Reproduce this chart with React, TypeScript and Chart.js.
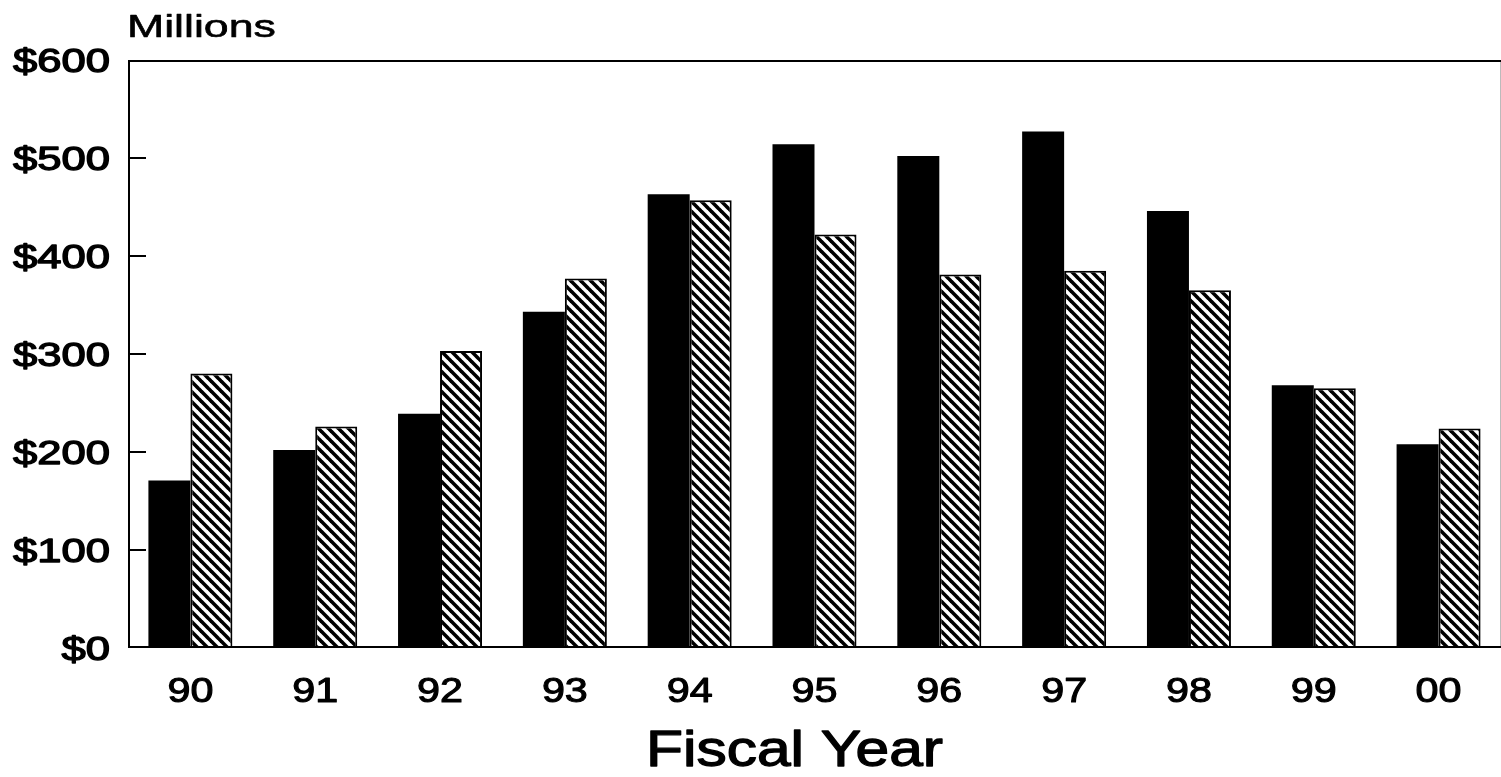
import React, { useEffect, useRef } from 'react';
import { Chart, registerables } from 'chart.js';

Chart.register(...registerables);

const years = ['90', '91', '92', '93', '94', '95', '96', '97', '98', '99', '00'];
const solidSeries = [171, 202, 239, 343, 463, 514, 502, 527, 446, 268, 208];
const hatchedSeries = [280, 226, 303, 377, 457, 422, 381, 385, 365, 265, 224];
const yTickValues = [0, 100, 200, 300, 400, 500, 600];
const yAxisTitle = 'Millions';
const xAxisTitle = 'Fiscal Year';

const FONT = "'Liberation Sans', Arial, Helvetica, sans-serif";

function makeHatch(ctx: CanvasRenderingContext2D): CanvasPattern | string {
  const p = 10;
  const c = document.createElement('canvas');
  c.width = p;
  c.height = p;
  const g = c.getContext('2d');
  if (!g) return '#888';
  g.fillStyle = '#fff';
  g.fillRect(0, 0, p, p);
  g.strokeStyle = '#000';
  g.lineWidth = 3.6;
  for (const off of [-p, 0, p]) {
    g.beginPath();
    g.moveTo(off - 1, -1);
    g.lineTo(off + p + 1, p + 1);
    g.stroke();
  }
  return ctx.createPattern(c, 'repeat') || '#888';
}

function stretchedText(
  ctx: CanvasRenderingContext2D,
  text: string,
  x: number,
  y: number,
  sx: number,
  align: CanvasTextAlign,
  font: string,
  extraStroke = 0
) {
  ctx.save();
  ctx.translate(x, y);
  ctx.scale(sx, 1);
  ctx.font = font;
  ctx.textAlign = align;
  ctx.textBaseline = 'alphabetic';
  ctx.fillStyle = '#000';
  ctx.fillText(text, 0, 0);
  if (extraStroke > 0) {
    ctx.strokeStyle = '#000';
    ctx.lineWidth = extraStroke;
    ctx.lineJoin = 'round';
    ctx.strokeText(text, 0, 0);
  }
  ctx.restore();
}

const framePlugin = {
  id: 'framePlugin',
  afterDatasetsDraw(chart: any) {
    const { ctx, chartArea } = chart;
    const { left, right, top, bottom } = chartArea;
    const yScale = chart.scales.y;
    const xScale = chart.scales.x;
    ctx.save();
    // faint right edge
    ctx.strokeStyle = '#bbb';
    ctx.lineWidth = 1;
    ctx.beginPath();
    ctx.moveTo(right - 0.5, top);
    ctx.lineTo(right - 0.5, bottom);
    ctx.stroke();
    // frame: left, bottom, top
    ctx.strokeStyle = '#000';
    ctx.lineWidth = 2;
    ctx.beginPath();
    ctx.moveTo(left + 1, top);
    ctx.lineTo(left + 1, bottom);
    ctx.moveTo(left, bottom - 1);
    ctx.lineTo(right, bottom - 1);
    ctx.moveTo(left, top + 1);
    ctx.lineTo(right, top + 1);
    ctx.stroke();
    // inward y ticks
    ctx.beginPath();
    yScale.ticks.forEach((t: any) => {
      if (t.value <= yScale.min || t.value >= yScale.max) return;
      const y = Math.round(yScale.getPixelForValue(t.value));
      ctx.moveTo(left, y);
      ctx.lineTo(left + 18, y);
    });
    ctx.stroke();
    ctx.restore();

    // y tick labels
    const yFont = `33px ${FONT}`;
    yScale.ticks.forEach((t: any) => {
      const y = yScale.getPixelForValue(t.value);
      stretchedText(ctx, '$' + t.value, left - 18, y + 12, 1.32, 'right', yFont, 1.3);
    });
    // x tick labels
    const xFont = `35px ${FONT}`;
    xScale.ticks.forEach((t: any, i: number) => {
      const x = xScale.getPixelForTick(i);
      stretchedText(ctx, String(years[i]), x, bottom + 54, 1.18, 'center', xFont, 1.1);
    });
    // titles
    stretchedText(ctx, yAxisTitle, left - 1, 37, 1.44, 'left', `31px ${FONT}`, 0.6);
    stretchedText(ctx, xAxisTitle, (left + right) / 2 - 20, 766, 1.21, 'center', `50px ${FONT}`, 1.3);
  },
};

export default function App() {
  const canvasRef = useRef<HTMLCanvasElement | null>(null);

  useEffect(() => {
    const canvas = canvasRef.current;
    if (!canvas) return;
    const ctx = canvas.getContext('2d');
    if (!ctx) return;
    const hatch = makeHatch(ctx);

    const chart = new Chart(ctx, {
      type: 'bar',
      data: {
        labels: years,
        datasets: [
          {
            label: 'Solid',
            data: solidSeries,
            backgroundColor: '#000',
            borderColor: '#000',
            borderWidth: 0,
            categoryPercentage: 0.673,
            barPercentage: 1.0,
          },
          {
            label: 'Hatched',
            data: hatchedSeries,
            backgroundColor: hatch as any,
            borderColor: '#000',
            borderWidth: 2,
            categoryPercentage: 0.673,
            barPercentage: 1.0,
          },
        ],
      },
      options: {
        animation: false,
        responsive: true,
        maintainAspectRatio: false,
        layout: { padding: { top: 60, left: 0, right: 0, bottom: 0 } },
        plugins: {
          legend: { display: false },
          tooltip: { enabled: false },
          title: { display: false },
        },
        scales: {
          x: {
            grid: { display: false, drawTicks: false },
            border: { display: false },
            ticks: { display: false },
            afterFit: (s: any) => {
              s.height = 129;
            },
          },
          y: {
            min: 0,
            max: 600,
            grid: { display: false, drawTicks: false },
            border: { display: false },
            ticks: { display: false, stepSize: 100 },
            afterBuildTicks: (s: any) => {
              s.ticks = yTickValues.map((v) => ({ value: v }));
            },
            afterFit: (s: any) => {
              s.width = 128;
            },
          },
        },
      },
      plugins: [framePlugin],
    });

    return () => {
      chart.destroy();
    };
  }, []);

  return (
    <div
      style={{
        position: 'absolute',
        left: 0,
        top: 0,
        width: 1501,
        height: 777,
        background: '#fff',
      }}
    >
      <canvas ref={canvasRef} />
    </div>
  );
}
